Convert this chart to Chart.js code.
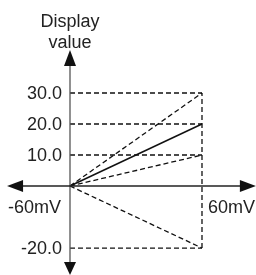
<!DOCTYPE html>
<html>
<head>
<meta charset="utf-8">
<script src="https://cdn.jsdelivr.net/npm/chart.js@4/dist/chart.umd.min.js"></script>
<style>
  html, body { margin: 0; padding: 0; background: #fff; }
  #wrap { width: 256px; height: 275px; }
</style>
</head>
<body>
<div id="wrap"><canvas id="c"></canvas></div>
<script>
// 顯示值刻度
const tickValues = [30, 20, 10, -20];
// 輸入端點 (mV)
const inputMax = 60;
const inputLabels = ["-60mV", "60mV"];
// 各條特性線在 60mV 時的顯示值
const dashedEnds = [30, 10, -20];
const solidEnd = 20;
// 坐標軸範圍（數據單位）
const xAxisRange = [-28.6, 84.5];
const yAxisRange = [43.9, -28.7];
const yTitle = ["Display", "value"];

const black = "#111";
const datasets = [];

// 虛線水平參考線
tickValues.forEach(v => {
    datasets.push({ data: [{ x: 0, y: v }, { x: inputMax, y: v }], borderDash: [5, 3] });
});
// 60mV 的垂直虛線
datasets.push({ data: [{ x: inputMax, y: Math.min(...tickValues) }, { x: inputMax, y: Math.max(...tickValues) }], borderDash: [5, 3] });
// 斜虛線
dashedEnds.forEach(v => {
    datasets.push({ data: [{ x: 0, y: 0 }, { x: inputMax, y: v }], borderDash: [5, 3] });
});
// 實線
datasets.push({ data: [{ x: 0, y: 0 }, { x: inputMax, y: solidEnd }], borderDash: [], borderWidth: 1.5 });

datasets.forEach(d => {
    d.showLine = true;
    d.borderColor = black;
    d.borderWidth = d.borderWidth || 1.3;
    d.pointRadius = 0;
    d.fill = false;
});

const axesPlugin = {
    id: "axesPlugin",
    afterDatasetsDraw(chart) {
        const ctx = chart.ctx;
        const xs = chart.scales.x, ys = chart.scales.y;
        const x0 = xs.getPixelForValue(0), y0 = ys.getPixelForValue(0);
        const xl = xs.getPixelForValue(xAxisRange[0]), xr = xs.getPixelForValue(xAxisRange[1]);
        const yt = ys.getPixelForValue(yAxisRange[0]), yb = ys.getPixelForValue(yAxisRange[1]);
        ctx.save();
        // 坐標軸
        ctx.lineWidth = 1.3;
        ctx.strokeStyle = "#555";
        ctx.beginPath();
        ctx.moveTo(x0, yt + 10); ctx.lineTo(x0, yb - 10);
        ctx.stroke();
        ctx.strokeStyle = "#222";
        ctx.beginPath();
        ctx.moveTo(xl + 10, y0); ctx.lineTo(xr - 10, y0);
        ctx.stroke();
        // 箭頭
        ctx.fillStyle = black;
        const tri = (a, b, c) => {
            ctx.beginPath();
            ctx.moveTo(a[0], a[1]); ctx.lineTo(b[0], b[1]); ctx.lineTo(c[0], c[1]);
            ctx.closePath(); ctx.fill();
        };
        tri([x0, yt], [x0 - 6, yt + 16], [x0 + 6, yt + 16]);
        tri([x0, yb], [x0 - 6, yb - 13], [x0 + 6, yb - 13]);
        tri([xl, y0], [xl + 16, y0 - 6], [xl + 16, y0 + 6]);
        tri([xr, y0], [xr - 16, y0 - 6], [xr - 16, y0 + 6]);
        // 文字
        ctx.font = "18px 'Liberation Sans', Arial, sans-serif";
        ctx.fillStyle = "#222";
        ctx.textAlign = "right";
        ctx.textBaseline = "middle";
        tickValues.forEach(v => {
            ctx.fillText(v.toFixed(1), x0 - 8, ys.getPixelForValue(v) + 1);
        });
        ctx.textAlign = "left";
        ctx.textBaseline = "top";
        ctx.fillText(inputLabels[0], xl + 1, y0 + 13);
        ctx.fillText(inputLabels[1], xs.getPixelForValue(inputMax) + 6, y0 + 13);
        ctx.textAlign = "center";
        ctx.textBaseline = "alphabetic";
        ctx.fillText(yTitle[0], x0, yt - 23);
        ctx.fillText(yTitle[1], x0, yt - 2);
        ctx.restore();
    }
};

new Chart(document.getElementById("c"), {
    type: "scatter",
    data: { datasets },
    options: {
        responsive: true,
        maintainAspectRatio: false,
        animation: false,
        layout: { padding: 0 },
        plugins: { legend: { display: false }, tooltip: { enabled: false } },
        scales: {
            x: { type: "linear", display: false, min: -31.82, max: 84.55 },
            y: { type: "linear", display: false, min: -28.7, max: 60 }
        }
    },
    plugins: [axesPlugin]
});
</script>
</body>
</html>
